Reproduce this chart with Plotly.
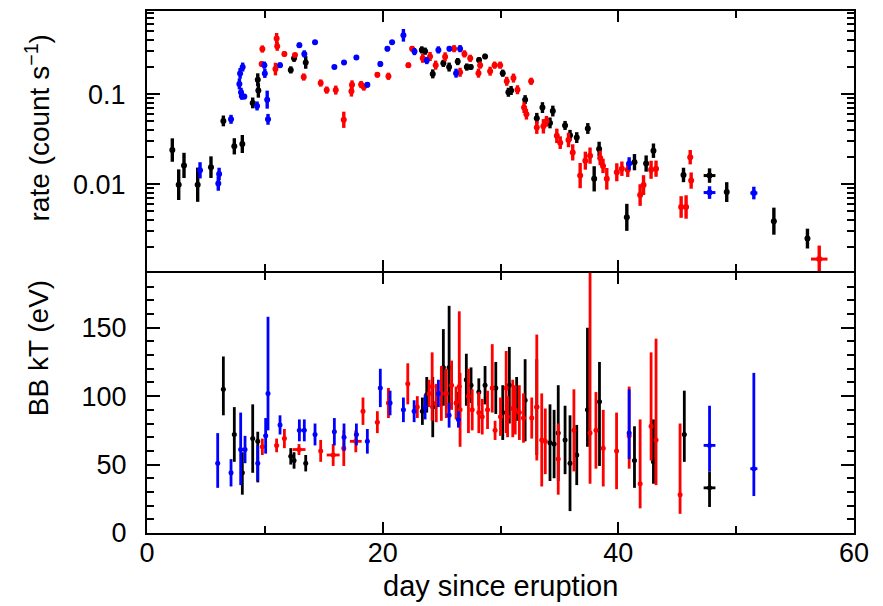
import numpy as np
import plotly.graph_objects as go
from plotly.subplots import make_subplots

# ---------------- top panel: count rate ----------------
rate_black_day = [2.15, 2.69, 3.14, 4.30, 5.43, 6.48, 7.41, 8.09, 8.97, 9.40, 9.45, 12.2, 12.48, 13.47,
                  23.32, 23.6, 24.25, 25.15, 25.64, 26.37, 27.14, 27.48, 28.18, 28.69, 30.19, 30.67, 30.9,
                  32.09, 33.08, 33.56, 34.2, 34.44, 35.48, 35.9, 36.47, 37.41, 37.95, 38.37, 40.72, 41.37,
                  42.36, 42.98, 45.53, 47.74, 49.2, 53.2, 56.05]
rate_black = [0.024, 0.0099, 0.0162, 0.0099, 0.0155, 0.0505, 0.0264, 0.028, 0.080, 0.145, 0.11, 0.186, 0.25, 0.225,
              0.31, 0.30, 0.168, 0.22, 0.20, 0.23, 0.20, 0.20, 0.24, 0.262, 0.171, 0.105, 0.11,
              0.087, 0.054, 0.071, 0.048, 0.065, 0.045, 0.035, 0.033, 0.0416, 0.0115, 0.0247, 0.0043, 0.0176,
              0.017, 0.0236, 0.0127, 0.0125, 0.0082, 0.0039, 0.0025]
rate_black_dex = [0.13, 0.17, 0.14, 0.19, 0.12, 0.06, 0.09, 0.10, 0.06, 0.07, 0.08, 0.04, 0.04, 0.07,
                  0.04, 0.04, 0.05, 0.04, 0.05, 0.04, 0.04, 0.03, 0.03, 0.03, 0.04, 0.05, 0.05,
                  0.05, 0.06, 0.06, 0.06, 0.06, 0.05, 0.06, 0.06, 0.06, 0.14, 0.08, 0.15, 0.09,
                  0.09, 0.08, 0.08, 0.08, 0.11, 0.15, 0.11]

rate_red_day = [9.73, 9.79, 10.9, 11.0, 11.05, 11.66, 12.56, 13.3, 14.74, 15.25, 16.02, 16.7, 17.35, 17.4,
                18.17, 18.4, 19.55, 20.49, 22.18, 22.5, 23.4, 24.02, 24.5, 25.3, 26.06, 26.57, 26.94,
                27.43, 28.13, 28.27, 29.12, 29.5, 29.97, 30.53, 31.1, 31.44, 32.0, 32.2, 32.6, 33.08,
                33.64, 33.9, 34.78, 35.07, 35.77, 36.13, 36.76, 37.2, 37.6, 38.46, 38.7, 39.02, 39.87,
                40.3, 40.8, 41.85, 42.14, 42.78, 43.2, 45.33, 45.75, 46.1, 46.18, 57.05]
rate_red = [0.216, 0.317, 0.19, 0.416, 0.34, 0.28, 0.272, 0.155, 0.133, 0.111, 0.111, 0.052, 0.108, 0.127,
            0.128, 0.12, 0.164, 0.158, 0.21, 0.32, 0.25, 0.262, 0.21, 0.26, 0.32, 0.175, 0.28,
            0.25, 0.171, 0.21, 0.18, 0.21, 0.21, 0.139, 0.151, 0.112, 0.071, 0.06, 0.139, 0.0426,
            0.044, 0.05, 0.0345, 0.029, 0.031, 0.0226, 0.0125, 0.0183, 0.0208, 0.0196, 0.016, 0.0115, 0.0136,
            0.0149, 0.0145, 0.0076, 0.0098, 0.0145, 0.0149, 0.0056, 0.0056, 0.020, 0.011, 0.00148]
rate_red_dex = [0.03, 0.04, 0.07, 0.06, 0.05, 0.03, 0.02, 0.04, 0.04, 0.04, 0.05, 0.09, 0.06, 0.05,
                0.04, 0.04, 0.03, 0.04, 0.03, 0.03, 0.05, 0.05, 0.05, 0.05, 0.04, 0.05, 0.04,
                0.04, 0.05, 0.04, 0.05, 0.04, 0.04, 0.05, 0.05, 0.05, 0.06, 0.06, 0.04, 0.07,
                0.08, 0.06, 0.08, 0.07, 0.08, 0.09, 0.14, 0.10, 0.09, 0.08, 0.08, 0.12, 0.10,
                0.08, 0.08, 0.12, 0.11, 0.10, 0.09, 0.12, 0.13, 0.08, 0.09, 0.15]

rate_blue_day = [4.5, 6.05, 6.12, 7.13, 7.84, 7.90, 7.98, 8.05, 8.12, 8.26, 9.34, 9.96, 10.0, 10.2, 10.27,
                 11.29, 12.93, 13.35, 14.26, 15.9, 16.72, 17.77, 18.7, 19.8, 20.4, 20.8, 21.76, 22.7,
                 23.74, 24.73, 25.66, 26.23, 26.57, 40.92, 47.74, 51.5]
rate_blue = [0.0143, 0.0102, 0.013, 0.0526, 0.13, 0.17, 0.105, 0.095, 0.20, 0.094, 0.074, 0.21, 0.17, 0.087, 0.0526,
             0.21, 0.35, 0.28, 0.376, 0.20, 0.225, 0.255, 0.127, 0.216, 0.32, 0.376, 0.45, 0.297,
             0.236, 0.31, 0.32, 0.171, 0.32, 0.017, 0.0081, 0.0080]
rate_blue_dex = [0.09, 0.08, 0.07, 0.05, 0.06, 0.06, 0.05, 0.04, 0.05, 0.03, 0.05, 0.04, 0.05, 0.10, 0.06,
                 0.03, 0.03, 0.04, 0.02, 0.02, 0.02, 0.02, 0.03, 0.03, 0.03, 0.02, 0.07, 0.04,
                 0.04, 0.04, 0.03, 0.05, 0.04, 0.07, 0.07, 0.07]

# ---------------- bottom panel: blackbody kT (eV) ----------------
kT_black_day = [6.48, 7.41, 8.09, 8.97, 9.4, 12.2, 12.48, 13.47, 23.37, 23.74, 24.25, 25.15, 25.64, 26.37,
                27.1, 27.5, 28.16, 28.69, 29.6, 30.19, 30.75, 31.37, 32.09, 33.08, 34.2, 34.55, 34.9,
                35.48, 35.9, 36.47, 37.38, 38.4, 41.37, 42.98, 45.6, 47.74]
kT_black = [105, 72, 44, 69, 67, 56, 53, 51, 89, 101, 92, 121, 121, 93,
            112, 108, 103, 108, 106, 88, 108, 98, 97, 92, 66, 65, 73,
            68, 51, 57, 90, 96, 53, 52, 72, 33]
kT_black_hi = [24, 20, 15, 25, 7, 6, 6, 6, 10, 13, 22, 28, 45, 10,
               19, 13, 10, 14, 19, 20, 28, 16, 30, 35, 28, 25, 35,
               25, 35, 22, 60, 29, 25, 31, 32, 12]
kT_black_lo = [19, 20, 16, 25, 30, 6, 6, 6, 10, 13, 22, 28, 30, 10,
               19, 13, 10, 14, 19, 20, 28, 16, 30, 35, 28, 25, 35,
               25, 35, 22, 27, 47, 20, 16, 20, 14]

kT_red_day = [9.79, 11.0, 11.66, 12.9, 14.74, 15.8, 16.7, 17.72, 18.33, 19.55, 20.49, 22.13, 22.94, 23.94,
              24.2, 24.55, 24.98, 25.4, 25.85, 26.23, 26.5, 26.57, 27.28, 27.6, 28.16, 28.45, 28.9,
              29.3, 29.54, 30.0, 30.48, 30.6, 31.04, 31.25, 31.6, 31.95, 32.65, 33.08, 33.5, 33.8,
              34.9, 36.23, 37.6, 38.1, 38.72, 39.85, 40.92, 41.85, 42.78, 43.2, 45.24]
kT_red = [63, 64, 69, 61, 60, 57, 62, 67, 89, 81, 95, 109, 92, 102,
          107, 95, 102, 102, 108, 95, 107, 90, 100, 90, 88, 85, 90,
          106, 75, 85, 106, 85, 91, 90, 88, 84, 84, 92, 68, 67,
          54, 75, 73, 75, 62, 60, 71, 36, 78, 68, 28]
kT_red_hi = [6, 5, 7, 4, 8, 8, 13, 8, 10, 8, 11, 15, 8, 10,
             25, 14, 20, 18, 18, 12, 55, 27, 20, 15, 15, 13, 14,
             32, 7, 14, 27, 15, 21, 18, 20, 18, 15, 53, 34, 24,
             26, 30, 120, 28, 28, 28, 36, 47, 54, 74, 52]
kT_red_lo = [6, 5, 7, 4, 8, 8, 13, 8, 10, 8, 11, 15, 8, 10,
             25, 14, 20, 18, 18, 12, 12, 27, 27, 15, 15, 13, 14,
             18, 7, 14, 33, 15, 21, 18, 20, 18, 15, 39, 34, 24,
             26, 30, 37, 28, 28, 28, 24, 18, 25, 33, 14]

kT_blue_day = [6.0, 7.13, 7.95, 8.32, 9.4, 10.07, 10.27, 11.29, 12.93, 13.35, 14.26, 15.9, 16.72, 17.77,
               18.7, 19.8, 20.63, 21.76, 22.67, 23.6, 24.73, 25.64, 26.43, 40.92, 47.74, 51.5]
kT_blue = [51, 44, 61, 61, 51, 71, 102, 79, 75, 75, 72, 74, 70, 72,
           67, 106, 95, 90, 89, 92, 102, 86, 83, 73, 64, 47]
kT_blue_hi = [22, 10, 27, 10, 13, 13, 56, 7, 8, 8, 8, 10, 10, 8,
              9, 14, 9, 9, 8, 9, 10, 9, 6, 32, 29, 70]
kT_blue_lo = [18, 10, 26, 10, 13, 13, 27, 7, 8, 8, 8, 10, 10, 8,
              9, 14, 9, 9, 8, 9, 10, 9, 6, 19, 19, 20]

# observations with long exposures (half-width in days)
long_exposure = {12.9: 0.55, 15.8: 0.55, 17.72: 0.5, 47.74: 0.5, 51.5: 0.3, 57.05: 0.7}

x_ticks = [0, 20, 40, 60]
kT_ticks = [0, 50, 100, 150]

COL = {"black": "#000000", "red": "#ff0000", "blue": "#0000ff"}
FONT = "Liberation Sans, Arial, Helvetica, sans-serif"


def xerr(days, default):
    return [long_exposure.get(d, default) for d in days]


fig = make_subplots(rows=2, cols=1, shared_xaxes=True, vertical_spacing=0)

top_series = [
    ("black", rate_black_day, rate_black, rate_black_dex),
    ("red", rate_red_day, rate_red, rate_red_dex),
    ("blue", rate_blue_day, rate_blue, rate_blue_dex),
]
for name, d, r, e in top_series:
    r = np.array(r)
    e = np.array(e)
    fig.add_trace(go.Scatter(
        x=d, y=r, mode="markers",
        marker=dict(color=COL[name], size=6, line=dict(width=0)),
        error_y=dict(type="data", array=r * (10 ** e - 1), arrayminus=r * (1 - 10 ** -e),
                     color=COL[name], thickness=3.4, width=0),
        error_x=dict(type="data", array=xerr(d, 0.18), color=COL[name], thickness=3, width=0),
        showlegend=False, hoverinfo="x+y"), row=1, col=1)

bottom_series = [
    ("black", kT_black_day, kT_black, kT_black_hi, kT_black_lo),
    ("red", kT_red_day, kT_red, kT_red_hi, kT_red_lo),
    ("blue", kT_blue_day, kT_blue, kT_blue_hi, kT_blue_lo),
]
for name, d, v, hi, lo in bottom_series:
    fig.add_trace(go.Scatter(
        x=d, y=v, mode="markers",
        marker=dict(color=COL[name], size=5, line=dict(width=0)),
        error_y=dict(type="data", array=hi, arrayminus=lo, color=COL[name], thickness=2.8, width=0),
        error_x=dict(type="data", array=xerr(d, 0.15), color=COL[name], thickness=2.8, width=0),
        showlegend=False, hoverinfo="x+y"), row=2, col=1)

axis_common = dict(showline=True, linecolor="black", linewidth=2, mirror="allticks",
                   ticks="inside", tickcolor="black", tickwidth=2, showgrid=False, zeroline=False,
                   tickfont=dict(family=FONT, size=27, color="black"))

fig.update_xaxes(range=[0, 60], tickvals=x_ticks, ticklen=11,
                 minor=dict(dtick=10, tick0=0, ticklen=7, tickwidth=2, tickcolor="black", ticks="inside"),
                 **axis_common)
fig.update_xaxes(showticklabels=False, row=1, col=1)
fig.update_xaxes(ticklabelstandoff=-5, row=2, col=1)

# small gap between the panels so that their shared frame lines coincide
PLOT_H = 598 - 1 - 73
gap = 1.0 / PLOT_H

fig.update_yaxes(type="log", range=[-2.962, -0.077], tickvals=[0.01, 0.1], ticktext=["0.01", "0.1"],
                 ticklen=13, ticklabelstandoff=14, domain=[0.5 + gap, 1],
                 minor=dict(tickvals=[k * 10.0 ** p for p in (-3, -2, -1) for k in range(2, 10)],
                            ticklen=7, tickwidth=2, tickcolor="black", ticks="inside"),
                 row=1, col=1, **axis_common)
fig.update_yaxes(range=[0, 190], tickvals=kT_ticks, ticklen=13, ticklabelstandoff=13,
                 domain=[0, 0.5 - gap],
                 minor=dict(dtick=10, tick0=0, ticklen=7, tickwidth=2, tickcolor="black", ticks="inside"),
                 row=2, col=1, **axis_common)

title_font = dict(family=FONT, size=28, color="black")
fig.add_annotation(text="rate (count s<sup>−1</sup>)", xref="paper", yref="paper", x=0, y=0.775,
                   xshift=-109, xanchor="center", yanchor="middle", textangle=-90,
                   showarrow=False, font=title_font)
fig.add_annotation(text="BB kT (eV)", xref="paper", yref="paper", x=0, y=0.354,
                   xshift=-109, xanchor="center", yanchor="middle", textangle=-90,
                   showarrow=False, font=title_font)
fig.add_annotation(text="day since eruption", xref="paper", yref="paper", x=0.5, y=0,
                   yshift=-53, xanchor="center", yanchor="middle", showarrow=False,
                   font=dict(family=FONT, size=29, color="black"))

# the page body adds an 8 px offset, so the figure is sized to the remaining window
fig.update_layout(width=875, height=598, margin=dict(l=139, r=29, t=1, b=73),
                  paper_bgcolor="white", plot_bgcolor="white", showlegend=False)

fig.write_html("out.html")
